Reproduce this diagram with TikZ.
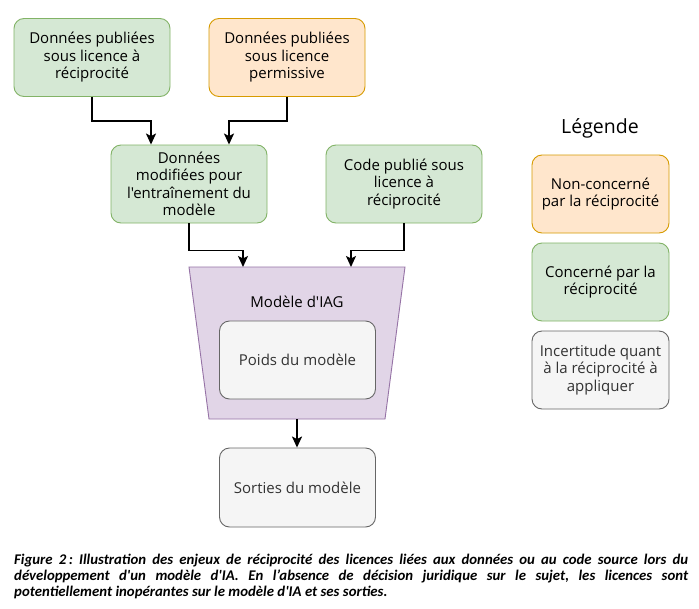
\documentclass[tikz,border=0pt]{standalone}
\usepackage{fontspec}
\setmainfont{Open Sans}[Ligatures=TeXOff]
\newfontfamily\capfont{Carlito}[Ligatures=TeXOff]
\usetikzlibrary{arrows.meta}
\definecolor{gfill}{HTML}{D5E8D4}\definecolor{gline}{HTML}{82B366}
\definecolor{ofill}{HTML}{FFE6CC}\definecolor{oline}{HTML}{D79B00}
\definecolor{nfill}{HTML}{F5F5F5}\definecolor{nline}{HTML}{666666}
\definecolor{pfill}{HTML}{E1D5E7}\definecolor{pline}{HTML}{9673A6}
\definecolor{ntext}{HTML}{333333}
\tikzset{
  box/.style={rectangle, rounded corners=10pt, minimum width=156pt, minimum height=78pt, inner sep=0pt, line width=0.9pt, align=center, font=\fontsize{15}{17.5}\selectfont},
  greenbox/.style={box, draw=gline, fill=gfill},
  orangebox/.style={box, draw=oline, fill=ofill},
  greybox/.style={box, draw=nline, fill=nfill, text=ntext},
  legbox/.style={minimum width=137pt},
  arr/.style={line width=1.7pt, -{Stealth[length=11pt,width=10pt,inset=2.5pt]}},
}
\begin{document}
\begin{tikzpicture}[x=1pt,y=1pt]
\useasboundingbox (0,0) rectangle (699,-608);
\fill[white] (0,0) rectangle (699,-608);
% top boxes
\node[greenbox] (a) at (92,-57.5) {Données publiées\\sous licence à\\réciprocité};
\node[orangebox] (b) at (287,-57.5) {Données publiées\\sous licence\\permissive};
\node[greenbox] (c) at (189,-184) {Données\\modifiées pour\\l'entraînement du\\modèle};
\node[greenbox] (d) at (404,-184) {Code publié sous\\licence à\\réciprocité};
% trapezoid
\coordinate (tl) at (189,-267); \coordinate (tr) at (405,-267);
\coordinate (br) at (385,-419); \coordinate (bl) at (209,-419);
\draw[draw=pline, fill=pfill, line width=0.9pt] (tl) -- (tr) -- (br) -- (bl) -- cycle;
\node[font=\fontsize{15}{17.5}\selectfont] (m) at (297,-302) {Modèle d'IAG};
\node[greybox, minimum height=78pt] (p) at (297.5,-360) {Poids du modèle};
\node[greybox, minimum height=79pt] (s) at (297.5,-487.5) {Sorties du modèle};
\coordinate (t1) at (243,-267); \coordinate (t2) at (351,-267);
\coordinate (tb) at (297,-419);
% arrows
\draw[arr] (a.south) -- ++(0,-24) -| ([xshift=-38pt]c.north);
\draw[arr] (b.south) -- ++(0,-24) -| ([xshift=40pt]c.north);
\draw[arr] (c.south) -- ++(0,-27) -| (t1);
\draw[arr] (d.south) -- ++(0,-27) -| (t2);
\draw[arr] (tb) -- (tb |- s.north);
% legend
\node[font=\fontsize{19.5}{22}\selectfont] (leg) at (600,-128) {Légende};
\node[orangebox, legbox] (l1) at (600.5,-194) {Non-concerné\\par la réciprocité};
\node[greenbox, legbox] (l2) at (600.5,-282) {Concerné par la\\réciprocité};
\node[greybox, legbox] (l3) at (600.5,-370) {Incertitude quant\\à la réciprocité à\\appliquer};
% caption
\node[anchor=base west, inner sep=0pt] (cap) at (14,-564) {\parbox[t]{674pt}{\capfont\bfseries\itshape\fontsize{14.8}{16}\selectfont\frenchspacing\emergencystretch=3em
Figure 2\,: Illustration des enjeux de réciprocité des licences liées aux données ou au code source lors du\linebreak
développement d'un modèle d'IA. En l’absence de décision juridique sur le sujet, les licences sont\linebreak
potentiellement inopérantes sur le modèle d'IA et ses sorties.}};
\end{tikzpicture}
\end{document}
